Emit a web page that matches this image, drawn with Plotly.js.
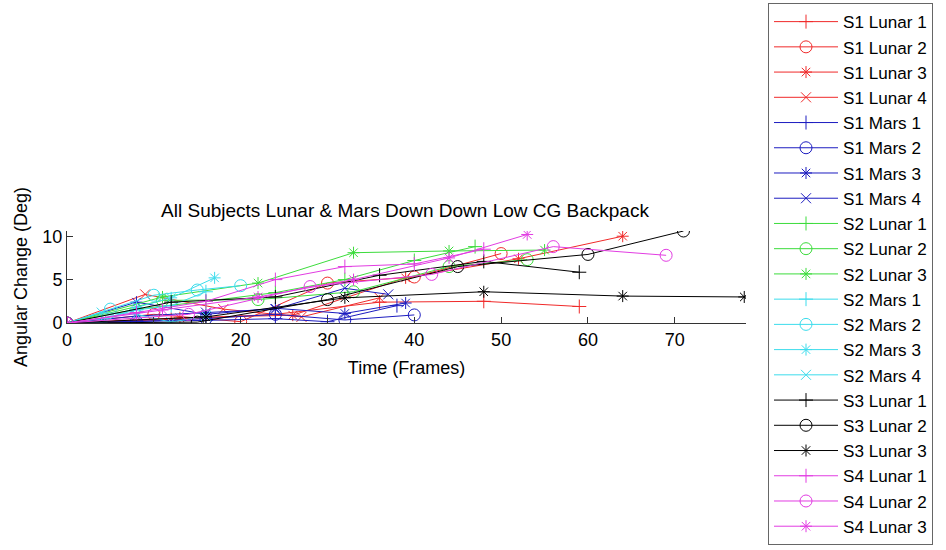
<!DOCTYPE html>
<html>
<head>
<meta charset="utf-8">
<script src="https://cdn.plot.ly/plotly-3.0.1.min.js"></script>
<style>html,body{margin:0;padding:0;background:#fff;}#chart{width:946px;height:550px;}</style>
</head>
<body>
<div id="chart"></div>
<script>
// ---- data ----
const seriesNames = ["S1 Lunar 1","S1 Lunar 2","S1 Lunar 3","S1 Lunar 4",
  "S1 Mars 1","S1 Mars 2","S1 Mars 3","S1 Mars 4",
  "S2 Lunar 1","S2 Lunar 2","S2 Lunar 3",
  "S2 Mars 1","S2 Mars 2","S2 Mars 3","S2 Mars 4",
  "S3 Lunar 1","S3 Lunar 2","S3 Lunar 3",
  "S4 Lunar 1","S4 Lunar 2","S4 Lunar 3"];

const s1Lunar1X = [0, 12, 24, 36, 48, 59];
const s1Lunar1Y = [0, 0.4, 1.0, 2.4, 2.5, 1.9];
const s1Lunar2X = [0, 10, 20, 30, 40, 50];
const s1Lunar2Y = [0, 1.0, 0.15, 4.6, 5.3, 8.0];
const s1Lunar3X = [0, 13, 26, 39, 52, 64];
const s1Lunar3Y = [0, 0.6, 0.9, 5.2, 7.4, 10.0];
const s1Lunar4X = [0, 9, 18, 27, 36];
const s1Lunar4Y = [0, 3.3, 1.6, 0.7, 2.9];

const s1Mars1X = [0, 8, 16, 24, 30, 38];
const s1Mars1Y = [0, 0.2, 0.3, 0.5, 0.15, 2.0];
const s1Mars2X = [0, 8, 16, 24, 32, 40];
const s1Mars2Y = [0, 0.15, 0.5, 1.0, 0.35, 0.93];
const s1Mars3X = [0, 8, 16, 24, 32, 39];
const s1Mars3Y = [0, 2.4, 1.0, 1.7, 1.1, 2.3];
const s1Mars4X = [0, 8, 16, 24, 32, 37];
const s1Mars4Y = [0, 0.8, 1.2, 1.6, 4.0, 3.3];

const s2Lunar1X = [0, 8, 16, 24, 32, 40, 47];
const s2Lunar1Y = [0, 1.6, 2.5, 3.5, 5.0, 7.2, 8.8];
const s2Lunar2X = [0, 11, 22, 33, 44, 53];
const s2Lunar2Y = [0, 2.6, 2.7, 3.6, 6.5, 7.3];
const s2Lunar3X = [0, 11, 22, 33, 44, 55];
const s2Lunar3Y = [0, 3.0, 4.6, 8.1, 8.3, 8.4];

const s2Mars1X = [0, 4, 8, 12, 16];
const s2Mars1Y = [0, 0.5, 1.5, 2.0, 3.6];
const s2Mars2X = [0, 5, 10, 15, 20];
const s2Mars2Y = [0, 1.6, 3.2, 3.8, 4.3];
const s2Mars3X = [0, 4, 8, 12, 17];
const s2Mars3Y = [0, 0.1, 1.8, 2.9, 5.2];
const s2Mars4X = [0, 4, 8, 12, 16];
const s2Mars4Y = [0, 1.2, 1.0, 0.1, 0.8];

const s3Lunar1X = [0, 12, 24, 36, 48, 59];
const s3Lunar1Y = [0, 2.4, 3.0, 5.5, 7.1, 5.85];
const s3Lunar2X = [0, 15, 30, 45, 60, 71];
const s3Lunar2Y = [0, 0.1, 2.7, 6.5, 7.9, 10.6];
const s3Lunar3X = [0, 16, 32, 48, 64, 78];
const s3Lunar3Y = [0, 0.7, 2.9, 3.6, 3.1, 3.0];

const s4Lunar1X = [0, 8, 16, 24, 32, 40, 48];
const s4Lunar1Y = [0, 1.2, 2.5, 5.0, 6.5, 6.8, 8.5];
const s4Lunar2X = [0, 14, 28, 42, 56, 69];
const s4Lunar2Y = [0, 1.0, 4.2, 5.6, 8.8, 7.8];
const s4Lunar3X = [0, 11, 22, 33, 44, 53];
const s4Lunar3Y = [0, 1.5, 3.0, 5.0, 7.5, 10.2];

const xTickVals = [0, 10, 20, 30, 40, 50, 60, 70];
const yTickVals = [0, 5, 10];

// ---- styling ----
const xs = [s1Lunar1X,s1Lunar2X,s1Lunar3X,s1Lunar4X,s1Mars1X,s1Mars2X,s1Mars3X,s1Mars4X,
  s2Lunar1X,s2Lunar2X,s2Lunar3X,s2Mars1X,s2Mars2X,s2Mars3X,s2Mars4X,
  s3Lunar1X,s3Lunar2X,s3Lunar3X,s4Lunar1X,s4Lunar2X,s4Lunar3X];
const ys = [s1Lunar1Y,s1Lunar2Y,s1Lunar3Y,s1Lunar4Y,s1Mars1Y,s1Mars2Y,s1Mars3Y,s1Mars4Y,
  s2Lunar1Y,s2Lunar2Y,s2Lunar3Y,s2Mars1Y,s2Mars2Y,s2Mars3Y,s2Mars4Y,
  s3Lunar1Y,s3Lunar2Y,s3Lunar3Y,s4Lunar1Y,s4Lunar2Y,s4Lunar3Y];
const RED='#f02a2a', BLUE='#1c1cc0', GREEN='#3cdc3c', CYAN='#3cdcec', BLACK='#000000', MAG='#e23ce2';
const colors = [RED,RED,RED,RED,BLUE,BLUE,BLUE,BLUE,GREEN,GREEN,GREEN,CYAN,CYAN,CYAN,CYAN,BLACK,BLACK,BLACK,MAG,MAG,MAG];
const P='cross-thin-open', O='circle-open', S='asterisk-open', X='x-thin-open';
const symbols = [P,O,S,X,P,O,S,X,P,O,S,P,O,S,X,P,O,S,P,O,S];

const traces = seriesNames.map((n,i)=>({
  type:'scatter', mode:'lines+markers', name:n, x:xs[i], y:ys[i],
  line:{color:colors[i], width:1},
  marker:{symbol:symbols[i], size: symbols[i]===O ? 12 : 10, color:colors[i], line:{color:colors[i], width:1}}
}));

const FONT = 'Liberation Sans, Arial, Helvetica, sans-serif';
const layout = {
  width:946, height:550,
  paper_bgcolor:'#fff', plot_bgcolor:'#fff',
  margin:{l:67, r:200, t:231, b:227, pad:0},
  font:{family:FONT, size:18, color:'#000'},
  title:{text:'All Subjects Lunar & Mars Down Down Low CG Backpack', font:{family:FONT, size:19, color:'#000'},
         x:405/946, xanchor:'center', y:1-210/550, yanchor:'middle'},
  xaxis:{range:[0,78.2], tickvals:xTickVals, ticktext:xTickVals.map(String), ticks:'inside', ticklen:6, tickcolor:'#333',
         showline:true, linecolor:'#333', linewidth:1, showgrid:false, zeroline:false, mirror:false,
         tickfont:{family:FONT, size:18}, title:{text:'Time (Frames)', font:{family:FONT, size:18}, standoff:12}},
  yaxis:{range:[0,10.6], tickvals:yTickVals, ticktext:yTickVals.map(String), ticks:'inside', ticklen:6, tickcolor:'#333',
         showline:true, linecolor:'#333', linewidth:1, showgrid:false, zeroline:false, mirror:false,
         tickfont:{family:FONT, size:18}, title:{text:'Angular Change (Deg)', font:{family:FONT, size:18}, standoff:10}},
  showlegend:true,
  legend:{xref:'container', yref:'container', x:768/946, y:1-3/550, xanchor:'left', yanchor:'top',
          bgcolor:'#fff', bordercolor:'#666', borderwidth:1, font:{family:FONT, size:17.1, color:'#000'},
          itemwidth:64, tracegroupgap:0, traceorder:'normal', maxheight:547}
};

Plotly.newPlot('chart', traces, layout, {staticPlot:true, displayModeBar:false});
</script>
</body>
</html>
